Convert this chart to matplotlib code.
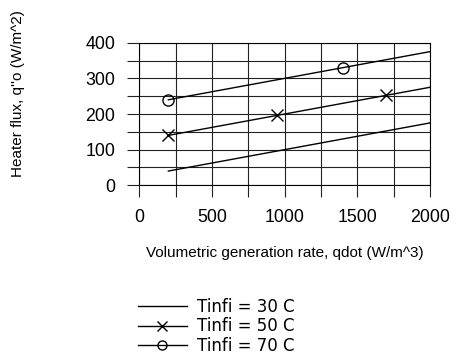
import numpy as np
import matplotlib
matplotlib.use("Agg")
from matplotlib import pyplot as plt
from matplotlib.ticker import MultipleLocator

plt.rcParams['font.family'] = ['Liberation Sans', 'DejaVu Sans']
plt.rcParams['font.size'] = 11

# line data (qdot in W/m^3, heater flux in W/m^2)
qdot = [200, 2000]
flux_30 = [40, 175]
flux_50 = [140, 275]
flux_70 = [240, 375]

# marker points
qdot_50_pts = [200, 950, 1700]
flux_50_pts = [140, 196, 252]
qdot_70_pts = [200, 1400]
flux_70_pts = [240, 330]

labels = ["Tinfi = 30 C", "Tinfi = 50 C", "Tinfi = 70 C"]

fig = plt.figure(figsize=(4.6, 3.56), dpi=100)
ax = fig.add_axes([0.3028, 0.4795, 0.632, 0.4005])

ax.plot(qdot, flux_30, color='black', lw=1)
ax.plot(qdot, flux_50, color='black', lw=1)
ax.plot(qdot, flux_70, color='black', lw=1)
ax.plot(qdot_50_pts, flux_50_pts, ls='none', marker='x', ms=8, mew=1, color='black')
ax.plot(qdot_70_pts, flux_70_pts, ls='none', marker='o', ms=8, mew=1,
        mfc='none', mec='black')

ax.set_xlim(0, 2000)
ax.set_ylim(0, 400)
ax.xaxis.set_major_locator(MultipleLocator(500))
ax.xaxis.set_minor_locator(MultipleLocator(250))
ax.yaxis.set_major_locator(MultipleLocator(100))
ax.yaxis.set_minor_locator(MultipleLocator(50))
ax.grid(which='both', color='#222222', lw=0.8)
ax.tick_params(which='both', length=8.4, width=0.8, color='#222222', labelsize=12.8)
ax.tick_params(axis='x', pad=9)
ax.tick_params(axis='y', pad=9)
for s in ax.spines.values():
    s.set_linewidth(0.8)

ax.set_xlabel("Volumetric generation rate, qdot (W/m^3)", fontsize=11, labelpad=14)
fig.text(0.039, 0.737, "Heater flux, q''o (W/m^2)", rotation=90,
         ha='center', va='center', fontsize=11)

h30, = ax.plot([], [], color='black', lw=1)
h50, = ax.plot([], [], color='black', lw=1, marker='x', ms=7)
h70, = ax.plot([], [], color='black', lw=1, marker='o', ms=6.5, mfc='none')
fig.legend([h30, h50, h70], labels, loc='upper left', bbox_to_anchor=(0.3007, 0.162),
           frameon=False, handlelength=2.9, handletextpad=0.6, labelspacing=0.07,
           borderpad=0, borderaxespad=0, numpoints=1,
           prop={'family': 'DejaVu Sans', 'size': 12})

fig.savefig("out.png", dpi=100)
